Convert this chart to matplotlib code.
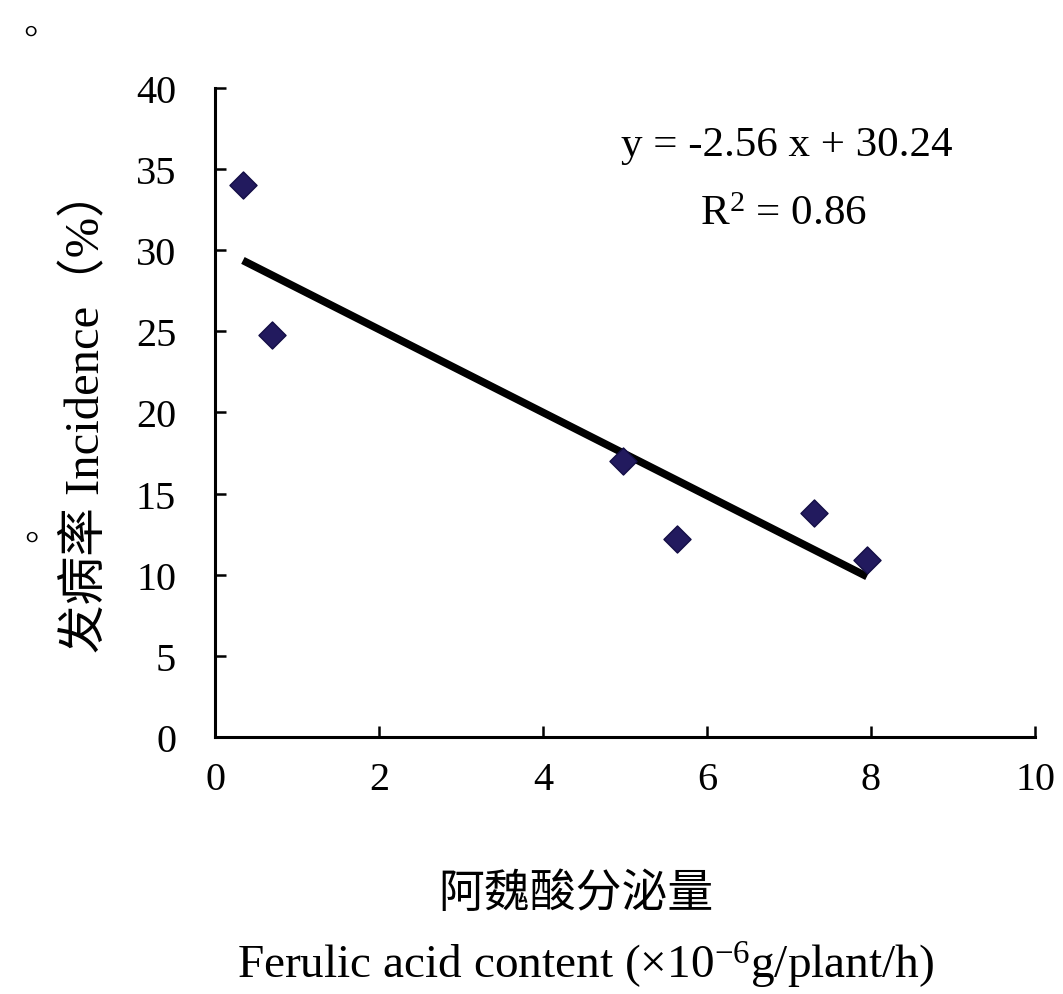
import matplotlib
matplotlib.use("Agg")
import matplotlib.pyplot as plt
import numpy as np

# Ferulic acid secretion vs. disease incidence
ferulic = [0.34, 0.70, 4.97, 5.63, 7.30, 7.95]
incidence = [34.0, 24.8, 17.0, 12.2, 13.8, 10.9]

# Linear trend line coefficients and goodness of fit
slope = -2.56
intercept = 30.24
r_squared = 0.86

x_ticks = [0, 2, 4, 6, 8, 10]
y_ticks = [0, 5, 10, 15, 20, 25, 30, 35, 40]

plt.rcParams["font.family"] = ["Liberation Serif", "Noto Sans CJK SC", "DejaVu Sans"]
plt.rcParams["mathtext.fontset"] = "custom"
plt.rcParams["mathtext.rm"] = "Liberation Serif"
plt.rcParams["mathtext.it"] = "Liberation Serif:italic"

fig = plt.figure(figsize=(10.63, 9.95), dpi=100)
ax = fig.add_axes([0.2023, 0.2583, 0.7714, 0.6523])

ax.scatter(ferulic, incidence, marker="D", s=190, color="#221a5e",
           edgecolors="#120d45", linewidths=1.0, zorder=3)

xfit = np.array([min(ferulic), max(ferulic)])
ax.plot(xfit, slope * xfit + intercept, color="black", lw=5.5,
        solid_capstyle="butt", zorder=2)

ax.set_xlim(0, 10)
ax.set_ylim(0, 40)
ax.set_xticks(x_ticks)
ax.set_yticks(y_ticks)

for side in ("top", "right"):
    ax.spines[side].set_visible(False)
for side in ("left", "bottom"):
    ax.spines[side].set_linewidth(2.2)

ax.tick_params(axis="y", direction="in", length=8, width=1.8,
               pad=28, labelsize=29)
ax.tick_params(axis="x", direction="in", length=8, width=1.8,
               pad=17, labelsize=29)

ax.text(0.697, 0.912, f"y = {slope:.2f} x + {intercept:.2f}",
        transform=ax.transAxes, ha="center", va="center", fontsize=31)
ax.text(0.693, 0.806, f"R$^{{2}}$ = {r_squared:.2f}",
        transform=ax.transAxes, ha="center", va="center", fontsize=31)

fig.text(0.081, 0.587, "发病率 Incidence（%）", rotation=90,
         ha="center", va="center", fontsize=35)
fig.text(0.542, 0.100, "阿魏酸分泌量", ha="center", va="center", fontsize=33)
fig.text(0.551, 0.030, r"Ferulic acid content (×10$^{\mathrm{-6}}$g/plant/h)",
         ha="center", va="center", fontsize=34)

# Stray full stops in the margin
fig.text(0.029, 0.959, "°", ha="center", va="center", fontsize=26)
fig.text(0.030, 0.450, "°", ha="center", va="center", fontsize=26)

fig.savefig("out.png", dpi=100, facecolor="white")
